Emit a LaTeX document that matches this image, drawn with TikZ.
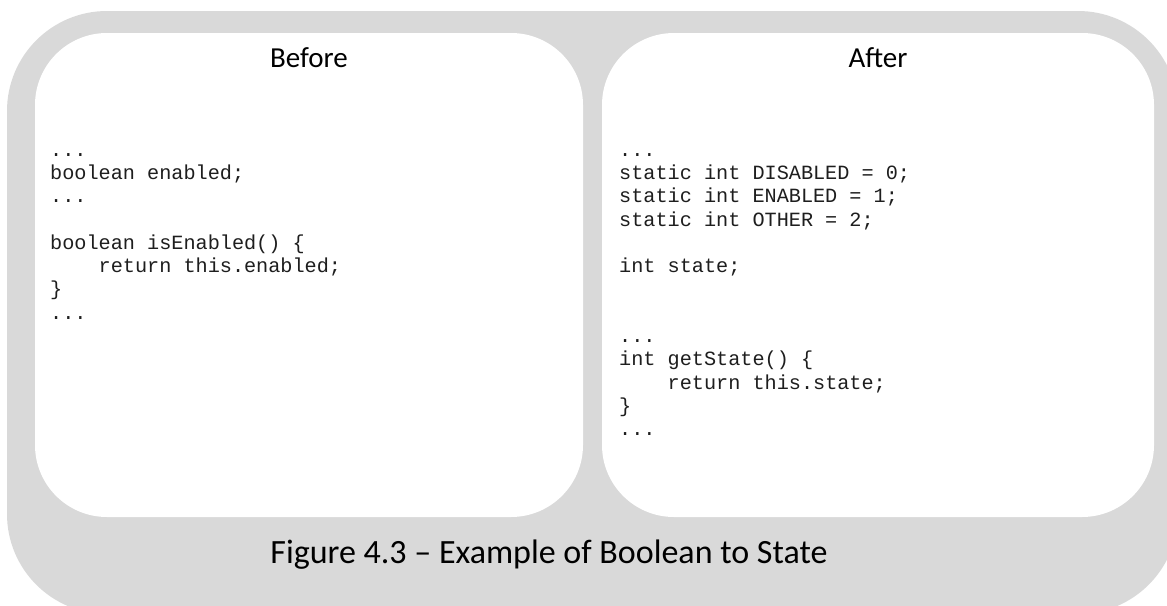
\documentclass[tikz,border=0pt]{standalone}
\usepackage{fontspec}
\setmainfont{Carlito}
\newfontfamily\codefont{Liberation Mono}
\definecolor{panelgrey}{RGB}{217,217,217}
\definecolor{codeink}{RGB}{30,30,30}
\begin{document}
\begin{tikzpicture}[x=1pt,y=-1pt,
  outerbox/.style={fill=panelgrey,draw=none,rounded corners=100pt},
  innerbox/.style={fill=white,draw=none,rounded corners=72pt},
  title/.style={font=\fontsize{29}{34}\selectfont,anchor=center,inner sep=0pt},
  caption/.style={font=\fontsize{34}{40}\selectfont,anchor=center,inner sep=0pt},
  code/.style={font=\codefont\fontsize{20.2}{23.3}\selectfont,text=codeink,anchor=north west,align=left,inner sep=0pt}]
\useasboundingbox (0,0) rectangle (1167,605);
\begin{scope}
\clip (0,0) rectangle (1167,605);
\fill[outerbox] (7,11) rectangle (1178,614);
\end{scope}
\fill[innerbox] (35,33) rectangle (583,517);
\fill[innerbox] (602,33) rectangle (1154,517);
\node[title] (before) at (309,58) {Before};
\node[title] (after) at (878,58) {After};
\node[code] (leftcode) at (50,153) {...\\
boolean enabled;\\
...\\
\strut\\
boolean isEnabled() \{\\
\ \ \ \ return this.enabled;\\
\}\\
...};
\node[code] (rightcode) at (619,153) {...\\
static int DISABLED = 0;\\
static int ENABLED = 1;\\
static int OTHER = 2;\\
\strut\\
int state;\\
\strut\\
\strut\\
...\\
int getState() \{\\
\ \ \ \ return this.state;\\
\}\\
...};
\node[caption] (cap) at (549,555) {Figure 4.3 – Example of Boolean to State};
\end{tikzpicture}
\end{document}
